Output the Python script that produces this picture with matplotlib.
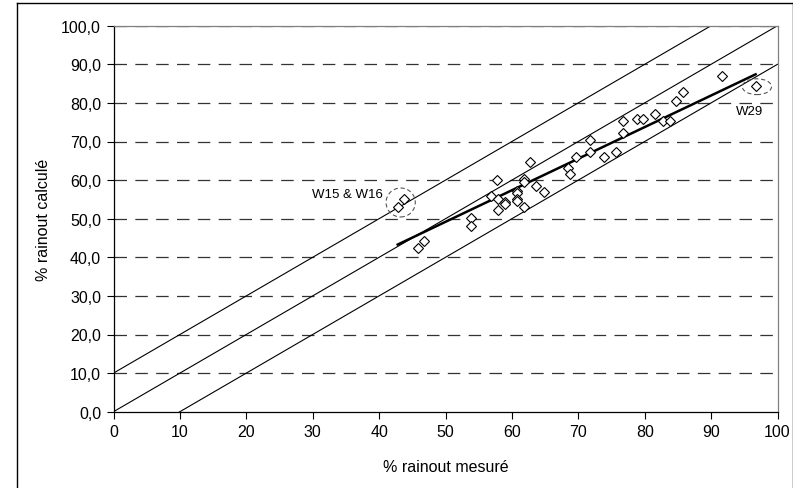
import matplotlib
matplotlib.use("Agg")
import matplotlib.pyplot as plt
from matplotlib.patches import Ellipse
from matplotlib.lines import Line2D
from matplotlib.ticker import FuncFormatter

plt.rcParams['font.family'] = ['Liberation Sans', 'DejaVu Sans']
plt.rcParams['lines.scale_dashes'] = False

# Data
measured = [42.8, 43.8, 45.9, 46.8, 53.8, 53.8, 56.8, 57.8, 57.9, 57.9,
            58.9, 58.9, 60.8, 60.8, 60.8, 60.8, 61.8, 61.8, 61.8, 62.7,
            63.7, 64.8, 68.5, 68.8, 69.7, 71.8, 71.8, 73.8, 75.7, 76.8,
            76.8, 78.8, 79.8, 81.5, 82.8, 83.8, 84.7, 85.7, 91.7, 96.7]
calculated = [53.0, 55.0, 42.4, 44.2, 50.2, 48.0, 56.0, 59.9, 55.2, 52.2,
              54.4, 53.8, 57.1, 56.6, 55.2, 54.6, 60.2, 59.6, 53.0, 64.7,
              58.5, 56.9, 63.2, 61.7, 66.0, 70.5, 67.4, 66.1, 67.3, 75.2,
              72.2, 75.7, 75.7, 77.0, 75.3, 75.3, 80.4, 82.8, 86.9, 84.3]
trend_x = [42.8, 96.7]
trend_y = [43.3, 87.4]
ref_offsets = [10, 0, -10]
x_ticks = [0, 10, 20, 30, 40, 50, 60, 70, 80, 90, 100]
y_ticks = [0, 10, 20, 30, 40, 50, 60, 70, 80, 90, 100]

W, H = 793, 489
fig = plt.figure(figsize=(W / 100, H / 100), dpi=100)
ax = fig.add_axes([113.5 / W, (H - 412.7) / H, (777.5 - 113.5) / W, (412.7 - 26.7) / H])

ax.set_xlim(0, 100)
ax.set_ylim(0, 100)

# gridlines
for yv in y_ticks[1:]:
    ax.axhline(yv, color='#333333', lw=0.9, linestyle=(0, (9, 6)), zorder=1)

# reference lines
for off in ref_offsets:
    ax.plot([0, 100], [0 + off, 100 + off], color='black', lw=0.8, zorder=2)

# trend line
ax.plot(trend_x, trend_y, color='black', lw=1.8, zorder=3)

# points
ax.plot(measured, calculated, linestyle='none', marker='D', markersize=4.6,
        markerfacecolor='white', markeredgecolor='black', markeredgewidth=0.8,
        zorder=4)

# annotations
ax.add_patch(Ellipse((43.25, 54.2), 4.4, 7.5, fill=False, edgecolor='#555555',
                     lw=0.8, linestyle=(0, (3, 2)), zorder=5))
ax.add_patch(Ellipse((96.9, 84.2), 4.4, 4.1, fill=False, edgecolor='#555555',
                     lw=0.8, linestyle=(0, (3, 2)), zorder=5))
ax.text(40.6, 56.4, 'W15 & W16', ha='right', va='center', fontsize=9.5)
ax.text(95.8, 78.0, 'W29', ha='center', va='center', fontsize=9.5)

ax.set_xticks(x_ticks)
ax.set_yticks(y_ticks)
ax.yaxis.set_major_formatter(FuncFormatter(lambda v, p: f"{v:.1f}".replace('.', ',')))
ax.tick_params(direction='out', length=5, width=0.8, labelsize=11.5, colors='black', pad=4)

for s in ['left', 'bottom']:
    ax.spines[s].set_color('black')
    ax.spines[s].set_linewidth(0.9)
for s in ['top', 'right']:
    ax.spines[s].set_color('#808080')
    ax.spines[s].set_linewidth(0.9)

ax.set_xlabel('% rainout mesuré', fontsize=11.5, labelpad=14)
ax.set_ylabel('% rainout calculé', fontsize=11.5, labelpad=7)

# outer chart border
fig.add_artist(Line2D([17 / W, 17 / W], [0, 1 - 4 / H], transform=fig.transFigure, color='black', lw=1.0))
fig.add_artist(Line2D([17 / W, 792.5 / W], [1 - 4 / H, 1 - 4 / H], transform=fig.transFigure, color='black', lw=1.0))
fig.add_artist(Line2D([792.5 / W, 792.5 / W], [0, 1 - 4 / H], transform=fig.transFigure, color='black', lw=1.0))

fig.savefig('out.png', dpi=100)
